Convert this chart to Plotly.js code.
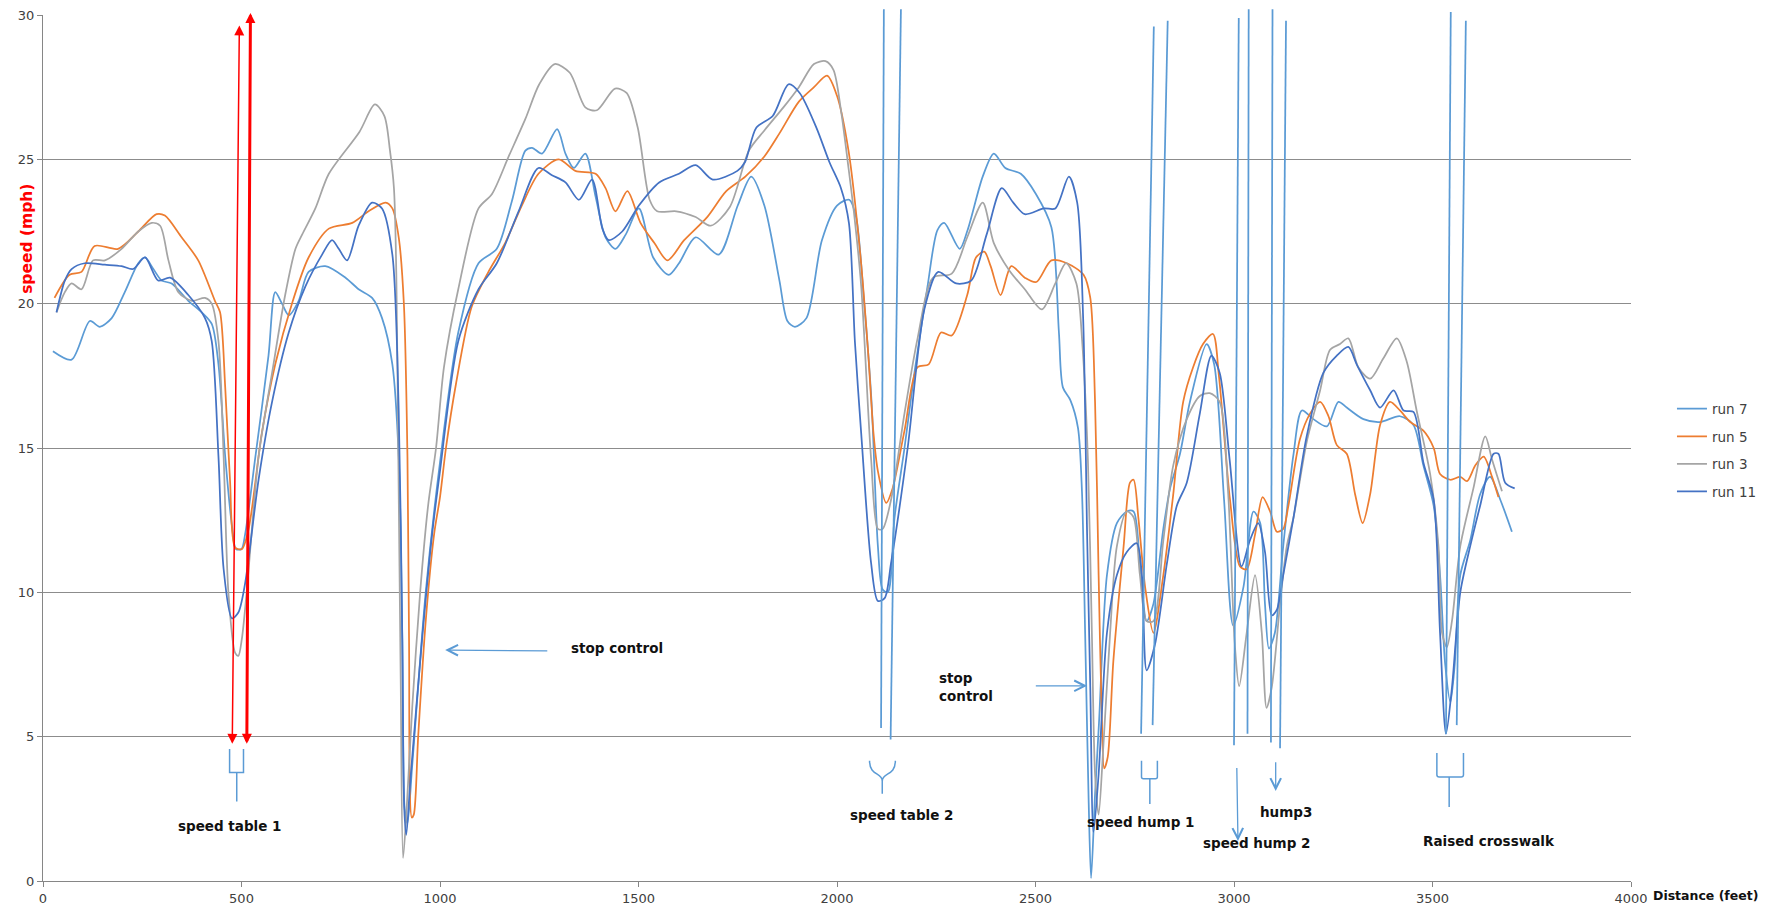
<!DOCTYPE html>
<html>
<head>
<meta charset="utf-8">
<script src="https://cdn.plot.ly/plotly-3.0.1.min.js"></script>
<style>html,body{margin:0;padding:0;background:#fff;}#chart{width:1786px;height:910px;}</style>
</head>
<body>
<div id="chart"></div>
<script>
// ---------------- data (distance in feet, speed in mph) ----------------
const seriesNames = ["run 7", "run 5", "run 3", "run 11"];

const xRun7 = [25,72,118,143,173,206,240,257,278,299,324,366,400,425,442,459,476,486,500,509,535,568,585,602,619,644,669,711,762,795,829,854,880,896,905,911,918,930,964,1000,1046,1097,1143,1181,1215,1232,1257,1295,1316,1337,1366,1392,1417,1442,1468,1501,1537,1576,1602,1644,1702,1750,1784,1817,1855,1875,1894,1923,1962,2000,2031,2048,2068,2087,2103,2115,2128,2145,2170,2195,2228,2253,2270,2309,2329,2367,2395,2424,2463,2501,2540,2559,2569,2588,2607,2617,2625,2634,2640,2650,2660,2680,2705,2730,2747,2763,2780,2797,2822,2839,2864,2889,2931,2950,2975,2998,3024,3049,3066,3078,3088,3103,3124,3150,3171,3200,3234,3263,3284,3326,3368,3418,3452,3477,3503,3519,3532,3545,3556,3570,3595,3620,3645,3671,3700];
const yRun7 = [18.35,18.06,19.4,19.2,19.5,20.4,21.4,21.6,21.2,20.8,20.7,20.1,19.7,19.3,17.9,14.7,12.3,11.5,11.5,12,14.7,18.2,20.4,20,19.6,20.1,21.1,21.3,20.9,20.5,20.2,19.5,17.9,14.7,8.4,2.5,2.0,4.0,10,14.5,19,21.4,21.9,23.55,25.3,25.4,25.2,26.05,25.2,24.7,25.2,23.7,22.3,21.9,22.4,23.3,21.6,21,21.4,22.3,21.7,23.4,24.4,23.4,20.8,19.4,19.2,19.5,22.2,23.4,23.6,23,20.1,16.6,11.6,10.1,10,12.6,15,17.6,20.6,22.55,22.8,21.9,22.55,24.4,25.2,24.7,24.5,23.8,22.65,19,17.1,16.65,15.7,13.5,8.6,2.7,0.1,3,5.5,10.6,12.4,12.8,12.8,11,9,9.6,12.2,13.6,14.8,16.6,18.6,17.9,13.2,8.85,10.2,12.8,12.4,9.6,8.05,8.6,11.6,14.8,16.3,16,15.75,16.6,16.4,16,15.9,16.1,15.8,14.4,13,10.6,7.5,6.2,7.5,10.6,11.8,13.4,14,13.2,12.1];

const xRun5 = [29,67,97,130,189,240,286,307,349,391,433,446,459,471,484,501,518,551,585,627,669,720,779,820,863,880,896,909,918,922,929,934,945,964,985,1000,1015,1040,1080,1122,1164,1206,1248,1299,1341,1392,1417,1442,1472,1505,1540,1573,1615,1673,1721,1769,1817,1855,1904,1942,1975,2000,2029,2058,2078,2092,2103,2124,2140,2170,2203,2231,2262,2289,2328,2350,2371,2387,2412,2439,2473,2502,2540,2579,2621,2638,2650,2659,2667,2673,2682,2696,2722,2738,2747,2759,2776,2797,2822,2847,2872,2897,2922,2947,2962,2990,3015,3032,3053,3072,3091,3108,3124,3137,3166,3192,3217,3238,3259,3284,3305,3324,3343,3368,3393,3418,3444,3477,3503,3519,3545,3570,3587,3608,3629,3650,3666];
const yRun5 = [20.2,21,21.1,22,21.9,22.5,23.1,23.05,22.3,21.5,20.1,19.7,17.1,13.9,11.55,11.5,12.2,15.5,17.9,20,21.6,22.6,22.8,23.2,23.5,23.3,22.3,20,14.7,8.4,2.2,2.3,5,9,12,13.3,15,17.2,19.9,21.1,22.1,23.4,24.5,25,24.6,24.5,24,23.2,23.9,22.8,22.1,21.5,22.2,23,23.9,24.4,25.1,25.9,27,27.5,27.9,27.2,25.3,21.8,18.4,15.5,14.2,13.1,13.6,15.6,17.8,17.9,19,18.9,20.3,21.6,21.8,21.3,20.3,21.3,20.9,20.75,21.5,21.4,21,20.2,16.6,10.6,5.7,3.9,4.3,7.6,11.6,13.8,13.9,12.6,10.2,8.6,10.6,13.4,16.6,17.8,18.6,18.95,17.5,13.2,10.9,10.8,12,13.3,12.8,12.1,12.2,13,15.3,16.2,16.6,16.1,15.1,14.8,13.4,12.4,13.4,15.8,16.6,16.3,15.9,15.6,15,14.1,13.9,14,13.85,14.4,14.7,14,13.3];

const xRun3 = [34,55,72,97,126,156,198,240,274,295,316,341,375,408,425,442,455,467,484,492,501,513,543,577,610,636,653,686,720,797,836,860,874,884,890,895,901,907,916,930,950,970,990,1010,1046,1097,1131,1173,1215,1250,1289,1327,1366,1395,1441,1470,1498,1528,1547,1595,1644,1682,1730,1778,1817,1865,1904,1942,1971,1991,2010,2029,2044,2061,2086,2103,2115,2136,2170,2203,2242,2289,2328,2367,2395,2434,2473,2516,2550,2577,2603,2618,2632,2642,2650,2659,2671,2688,2705,2730,2747,2763,2780,2797,2822,2847,2881,2914,2939,2964,2985,3002,3013,3032,3053,3070,3082,3095,3116,3133,3150,3183,3217,3242,3267,3288,3313,3343,3376,3410,3435,3460,3494,3515,3524,3536,3549,3570,3603,3633,3650,3675];
const yRun3 = [19.7,20.4,20.7,20.5,21.5,21.5,21.9,22.5,22.8,22.7,21.5,20.4,20.1,20.2,20,18.7,14.7,10,7.9,7.8,8.4,10,14.7,17.6,20.3,21.9,22.4,23.3,24.5,25.95,26.9,26.5,25.3,24,21,14.7,7,0.8,2.5,6,10,13,15,17.8,20.5,23.3,23.8,25.1,26.4,27.6,28.3,28,26.8,26.7,27.45,27.3,26.1,23.6,23.2,23.2,23,22.7,23.35,25.3,26,26.8,27.5,28.3,28.4,28.1,26.7,24.7,23,20.6,14.6,12.2,12.2,13.2,16.2,18.8,20.9,21.04,22.3,23.5,22.1,21.15,20.5,19.8,20.7,21.4,20.7,18.6,14.6,8.6,3.7,2.3,4.7,8.6,11.6,12.8,12.6,10.6,9,9,11.8,14.4,16,16.8,16.9,16.6,13.5,8.2,6.75,8.6,10.6,8.6,6,6.7,9.6,11.6,12.6,15.2,17,18.4,18.6,18.8,17.8,17.4,18.1,18.8,18,16.3,14.1,11.6,8.6,8.1,9,11.6,13.6,15.4,14.6,13.5];

const xRun11 = [34,55,72,105,156,198,227,257,290,320,366,408,425,442,455,476,492,509,543,577,619,661,703,728,745,766,795,829,854,880,896,905,910,915,926,955,980,1000,1046,1097,1143,1198,1248,1282,1316,1350,1383,1409,1425,1459,1501,1552,1602,1644,1687,1749,1768,1797,1838,1878,1906,1948,1981,2010,2030,2045,2061,2086,2103,2120,2136,2178,2220,2255,2300,2338,2377,2415,2444,2473,2521,2550,2584,2605,2620,2630,2638,2646,2659,2680,2705,2730,2755,2768,2780,2801,2831,2856,2881,2914,2943,2964,2989,3019,3040,3061,3078,3095,3108,3124,3150,3183,3225,3259,3288,3309,3343,3368,3402,3427,3452,3477,3503,3519,3534,3549,3570,3595,3620,3654,3666,3683,3707];
const yRun11 = [19.7,20.8,21.2,21.4,21.35,21.3,21.2,21.6,20.8,20.9,20.3,19.5,18.7,14.7,10.8,9.1,9.3,10.3,13.9,16.6,19,20.6,21.7,22.2,21.9,21.5,22.7,23.5,23.3,21.7,16.3,8.4,2.5,1.6,3.6,8.4,12,14.2,18.7,20.5,21.4,23.2,24.7,24.45,24.2,23.6,24.3,22.6,22.2,22.5,23.4,24.2,24.5,24.8,24.3,24.6,24.9,26.1,26.5,27.6,27.3,26.1,24.9,24,22.8,18.7,15.5,11,9.7,9.8,11,15,19.8,21.1,20.7,20.8,22.4,24,23.5,23.1,23.3,23.3,24.4,23.5,19.5,12,6.7,1.7,3.7,8.6,10.6,11.4,11.7,10.6,7.3,8.2,11,13,13.8,16.2,18.2,17.6,14.6,10.9,11.8,12.4,11.4,9.2,9.4,10.6,12.6,15.4,17.6,18.2,18.5,17.9,17,16.4,17,16.3,16.25,14.5,13.2,8.6,5.1,6.7,10,11.6,13,14.8,14.8,13.8,13.6];

const xTickValues = [0,500,1000,1500,2000,2500,3000,3500,4000];
const yTickValues = [0,5,10,15,20,25,30];

// annotation labels (text, x, y)
const labelTexts = ["stop control", "stop<br>control", "speed table 1", "speed table 2", "speed hump 1", "speed hump 2", "hump3", "Raised crosswalk"];
const labelX = [1324, 2252, 470, 2163, 2765, 3056, 3132, 3643];
const labelY = [8.06, 6.72, 1.9, 2.28, 2.03, 1.33, 2.38, 1.4];
const labelAnchor = ["left", "left", "center", "center", "center", "center", "center", "center"];

// blue pointer arrows: tip (x,y) and tail (x,y)
const pointerTipX = [1013, 2630, 3105, 3010];
const pointerTipY = [8.0, 6.76, 3.12, 1.39];
const pointerTailX = [1274, 2497, 3105, 3007];
const pointerTailY = [7.97, 6.76, 4.17, 3.97];

// red double arrows (speed table 1): bottom (x,y) and top (x,y)
const redBottomX = [476.7, 513.4];
const redBottomY = [4.7, 4.7];
const redTopX = [494.6, 522.5];
const redTopY = [29.64, 30.07];
const redWidth = [1.5, 3];

// marker lines (blue verticals): bottom x,y and top x,y (mph)
const lineBottomX = [2111, 2135, 2766, 2795, 3000, 3034, 3093, 3116, 3534, 3561];
const lineBottomY = [5.3, 4.9, 5.1, 5.4, 4.7, 5.1, 4.8, 4.6, 5.1, 5.4];
const lineTopX = [2118, 2161, 2798, 2833, 3012, 3037, 3097, 3131, 3546, 3584];
const lineTopY = [30.2, 30.2, 29.6, 29.8, 29.9, 30.2, 30.2, 29.8, 30.1, 29.8];

// brackets (paths in data coordinates)
const bracketPaths = [
  "M470,4.57 L470,3.76 L505,3.76 L505,4.57 M488,3.76 L488,2.75",
  "M2082,4.17 C2082,3.62 2114,3.78 2114,3.46 C2114,3.78 2147,3.62 2147,4.17 M2114,3.46 L2114,3.02",
  "M2767,4.17 L2767,3.6 Q2767,3.54 2772,3.54 L2802,3.54 Q2807,3.54 2807,3.6 L2807,4.17 M2788,3.54 L2788,2.67",
  "M3511,4.43 L3511,3.68 Q3511,3.6 3517,3.6 L3572,3.6 Q3578,3.6 3578,3.68 L3578,4.43 M3542,3.6 L3542,2.56"
];

// ---------------- chart ----------------
const colors = ["#5B9BD5", "#ED7D31", "#A5A5A5", "#4472C4"];
const xs = [xRun7, xRun5, xRun3, xRun11];
const ys = [yRun7, yRun5, yRun3, yRun11];

const traces = seriesNames.map((name, i) => ({
  type: "scatter",
  mode: "lines",
  name: name,
  legendgroup: name,
  x: xs[i],
  y: ys[i],
  line: { color: colors[i], width: 1.75, shape: "spline", smoothing: 0.8 },
  hoverinfo: "skip"
}));

const YMAX = 30;
const shapes = [];
lineBottomX.forEach((_, i) => {
  shapes.push({
    type: "line", xref: "x", yref: "paper",
    x0: lineBottomX[i], y0: lineBottomY[i] / YMAX,
    x1: lineTopX[i], y1: lineTopY[i] / YMAX,
    line: { color: "#5B9BD5", width: 1.75 }, layer: "above"
  });
});
bracketPaths.forEach(p => {
  shapes.push({ type: "path", xref: "x", yref: "y", path: p, line: { color: "#5B9BD5", width: 1.5 } });
});

const textFont = { family: "DejaVu Sans, Liberation Sans, sans-serif", size: 13.5, color: "#111111" };
const annotations = [];
labelTexts.forEach((t, i) => {
  annotations.push({
    xref: "x", yref: "y", x: labelX[i], y: labelY[i], text: "<b>" + t + "</b>",
    showarrow: false, xanchor: labelAnchor[i], yanchor: "middle", align: "left",
    font: textFont
  });
});
pointerTipX.forEach((_, i) => {
  annotations.push({
    xref: "x", yref: "y", axref: "x", ayref: "y",
    x: pointerTipX[i], y: pointerTipY[i], ax: pointerTailX[i], ay: pointerTailY[i],
    text: "", showarrow: true, arrowhead: 5, arrowsize: 1.6, arrowwidth: 1.3,
    arrowcolor: "#5B9BD5", standoff: 0
  });
});
redBottomX.forEach((_, i) => {
  const sz = 2 / redWidth[i];
  annotations.push({
    xref: "x", yref: "y", axref: "x", ayref: "y",
    x: redTopX[i], y: redTopY[i], ax: redBottomX[i], ay: redBottomY[i],
    text: "", showarrow: true, arrowside: "end+start",
    arrowhead: 2, startarrowhead: 2,
    arrowsize: sz, startarrowsize: sz,
    arrowwidth: redWidth[i], arrowcolor: "#FF0000", standoff: 0, startstandoff: 0
  });
});
// axis titles
annotations.push({
  xref: "paper", yref: "paper", x: -0.0098, y: 0.742, text: "<b>speed (mph)</b>",
  textangle: -90, showarrow: false, xanchor: "center", yanchor: "middle",
  font: { family: "DejaVu Sans, Liberation Sans, sans-serif", size: 15.5, color: "#FF0000" }
});
annotations.push({
  xref: "paper", yref: "paper", x: 1.0466, y: -0.0167, text: "<b>Distance (feet)</b>",
  showarrow: false, xanchor: "center", yanchor: "middle",
  font: { family: "DejaVu Sans, Liberation Sans, sans-serif", size: 12.5, color: "#111111" }
});

const tickFont = { family: "DejaVu Sans, Liberation Sans, sans-serif", size: 13, color: "#404040" };

const layout = {
  width: 1786, height: 910,
  margin: { l: 43, r: 155, t: 15, b: 29, pad: 0 },
  paper_bgcolor: "#ffffff", plot_bgcolor: "#ffffff",
  showlegend: true,
  legend: {
    x: 1.0258, xanchor: "left", y: 0.563, yanchor: "top",
    font: { family: "DejaVu Sans, Liberation Sans, sans-serif", size: 13.5, color: "#404040" },
    itemwidth: 30, tracegroupgap: 7, bgcolor: "rgba(0,0,0,0)"
  },
  xaxis: {
    range: [0, 4000], tickvals: xTickValues, ticktext: xTickValues.map(String),
    showgrid: false, zeroline: false, showline: true, linecolor: "#868686", linewidth: 1,
    ticks: "outside", ticklen: 5, tickcolor: "#868686", tickfont: tickFont, fixedrange: true
  },
  yaxis: {
    range: [0, 30], tickvals: yTickValues, ticktext: yTickValues.map(String),
    showgrid: true, gridcolor: "#8C8C8C", gridwidth: 1, zeroline: false,
    showline: true, linecolor: "#868686", linewidth: 1,
    ticks: "outside", ticklen: 5, tickcolor: "#868686", tickfont: tickFont, fixedrange: true
  },
  shapes: shapes,
  annotations: annotations
};

Plotly.newPlot("chart", traces, layout, { displayModeBar: false, staticPlot: true });
</script>
</body>
</html>
